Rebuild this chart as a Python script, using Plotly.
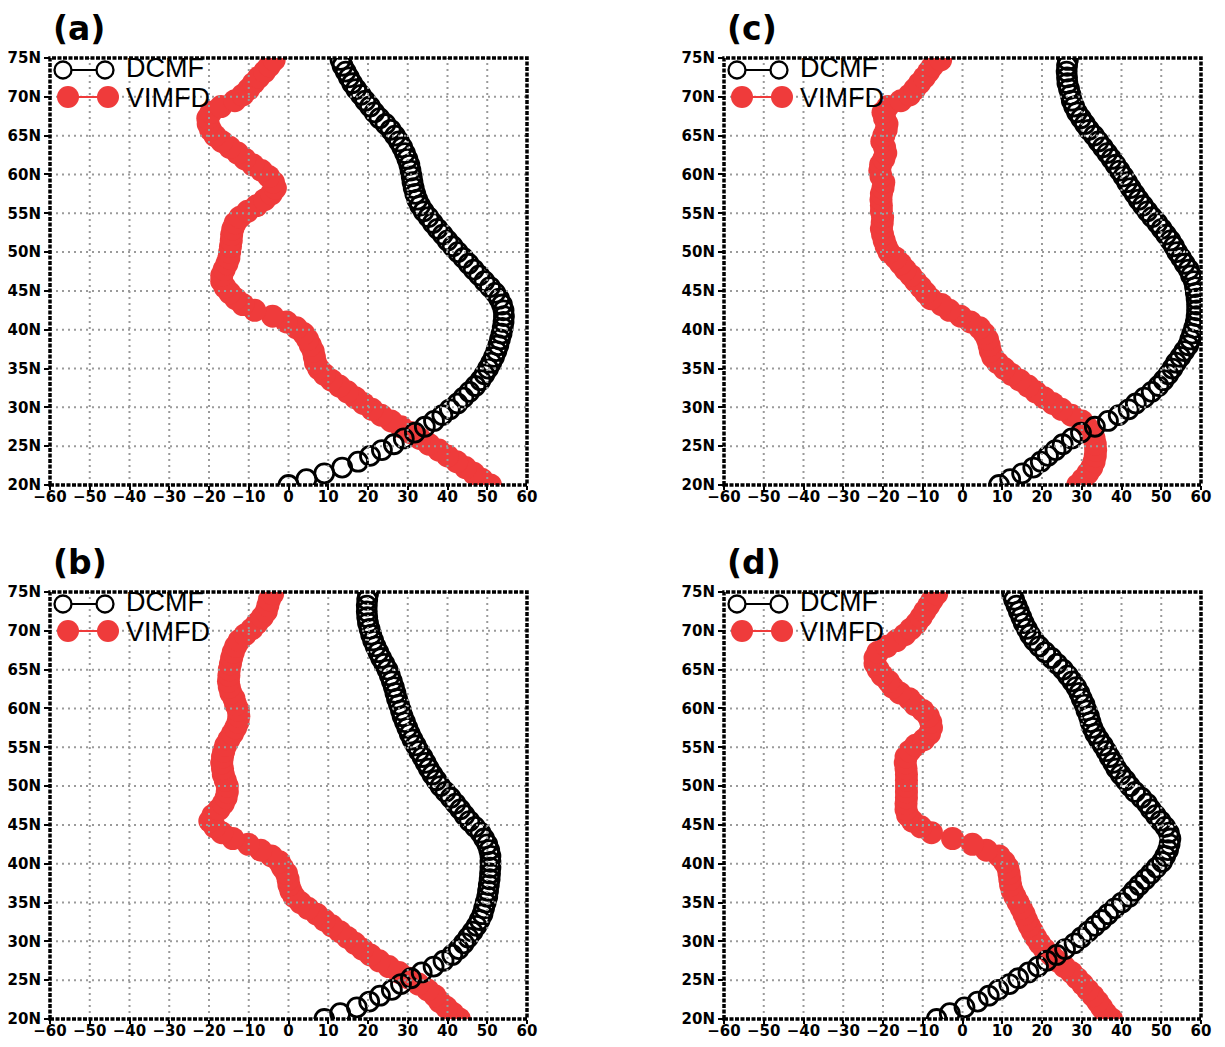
import plotly.graph_objects as go

# ---------------- data ----------------
lat = [20.0, 20.75, 21.5, 22.25, 23.0, 23.75, 24.5, 25.25, 26.0, 26.75,
       27.5, 28.25, 29.0, 29.75, 30.5, 31.25, 32.0, 32.75, 33.5, 34.25,
       35.0, 35.75, 36.5, 37.25, 38.0, 38.75, 39.5, 40.25, 41.0, 41.75,
       42.5, 43.25, 44.0, 44.75, 45.5, 46.25, 47.0, 47.75, 48.5, 49.25,
       50.0, 50.75, 51.5, 52.25, 53.0, 53.75, 54.5, 55.25, 56.0, 56.75,
       57.5, 58.25, 59.0, 59.75, 60.5, 61.25, 62.0, 62.75, 63.5, 64.25,
       65.0, 65.75, 66.5, 67.25, 68.0, 68.75, 69.5, 70.25, 71.0, 71.75,
       72.5, 73.25, 74.0, 74.75]

dcmf_a = [0.0, 4.5, 9.0, 13.5, 17.5, 20.5, 23.5, 26.5, 29.0, 31.8,
          34.3, 36.6, 38.7, 40.6, 42.5, 44.0, 45.5, 47.0, 48.3, 49.3,
          50.2, 51.0, 51.7, 52.3, 52.8, 53.2, 53.6, 53.9, 54.1, 54.2,
          54.1, 53.7, 53.0, 52.0, 50.7, 49.3, 48.0, 46.6, 45.3, 44.0,
          42.6, 41.3, 40.0, 38.8, 37.5, 36.3, 35.2, 34.0, 33.1, 32.4,
          31.9, 31.5, 31.2, 31.0, 30.7, 30.4, 29.9, 29.3, 28.6, 27.8,
          26.8, 25.7, 24.4, 22.9, 21.6, 20.5, 19.3, 18.2, 17.0, 16.0,
          15.2, 14.4, 13.6, 13.1]
vimfd_a = [50.8, 48.6, 46.6, 44.5, 42.3, 40.0, 37.8, 35.3, 33.0, 30.7,
           28.3, 25.8, 23.3, 21.0, 18.8, 16.8, 14.8, 12.8, 10.8, 9.0,
           7.6, 6.8, 6.5, 6.2, 5.5, 4.8, 3.8, 2.0, -0.5, -4.0,
           -8.5, -11.5, -13.3, -14.8, -16.0, -16.8, -16.8, -16.2, -15.5, -15.0,
           -14.8, -14.6, -14.4, -14.3, -14.0, -13.4, -12.2, -10.3, -8.0, -6.0,
           -4.3, -3.3, -3.8, -5.0, -6.8, -9.0, -11.0, -12.8, -14.8, -16.8,
           -18.5, -19.6, -20.2, -20.3, -19.5, -17.0, -13.5, -11.5, -10.0, -8.8,
           -7.5, -6.0, -4.8, -3.6]

dcmf_b = [9.0, 13.0, 17.2, 20.3, 23.0, 26.0, 28.3, 30.8, 33.5, 36.5,
          39.0, 41.2, 42.8, 44.1, 45.2, 46.3, 47.3, 48.1, 48.8, 49.2,
          49.6, 50.0, 50.2, 50.4, 50.6, 50.7, 50.8, 50.8, 50.8, 50.5,
          50.0, 49.2, 48.3, 46.9, 45.5, 44.3, 43.2, 42.0, 40.8, 39.5,
          38.2, 37.2, 36.2, 35.3, 34.5, 33.7, 32.8, 32.0, 31.2, 30.5,
          29.9, 29.3, 28.7, 28.3, 27.8, 27.3, 26.9, 26.5, 26.0, 25.5,
          24.9, 24.1, 23.3, 22.6, 21.9, 21.3, 20.8, 20.4, 20.0, 19.8,
          19.7, 19.7, 19.8, 20.0]
vimfd_b = [43.0, 41.3, 39.7, 38.0, 36.8, 35.0, 32.7, 30.3, 27.8, 25.2,
           22.8, 20.6, 18.6, 16.7, 14.8, 12.9, 10.9, 9.0, 7.1, 4.9,
           3.0, 1.4, 0.6, 0.1, -0.1, -0.5, -1.5, -2.3, -4.3, -7.0,
           -10.1, -14.0, -16.8, -18.6, -19.8, -19.0, -17.5, -16.4, -15.7, -15.4,
           -15.4, -15.9, -16.4, -16.6, -16.8, -16.6, -16.3, -15.8, -15.0, -14.1,
           -13.3, -12.7, -12.5, -12.6, -13.3, -13.7, -14.5, -14.9, -15.1, -15.0,
           -14.9, -14.6, -14.3, -13.9, -13.3, -12.4, -10.9, -9.2, -7.9, -6.6,
           -5.6, -5.2, -4.8, -4.0]

dcmf_c = [9.2, 12.0, 15.0, 17.8, 19.7, 21.5, 23.4, 25.2, 27.5, 29.8,
          33.3, 36.6, 39.3, 41.8, 43.6, 45.7, 47.6, 49.3, 50.6, 51.8,
          52.8, 53.7, 54.8, 55.8, 56.8, 57.3, 57.8, 58.3, 58.7, 58.9,
          59.0, 59.0, 58.9, 58.7, 58.5, 58.2, 57.5, 56.9, 55.9, 55.0,
          54.0, 53.2, 52.3, 51.2, 50.1, 49.0, 47.7, 46.5, 45.4, 44.3,
          43.3, 42.3, 41.4, 40.5, 39.5, 38.5, 37.5, 36.4, 35.3, 34.2,
          33.1, 31.8, 30.8, 29.8, 28.8, 28.1, 27.5, 27.2, 26.8, 26.4,
          26.3, 26.2, 26.3, 26.5]
vimfd_c = [29.0, 30.3, 31.5, 32.5, 33.1, 33.4, 33.5, 33.4, 33.1, 32.4,
           31.3, 30.0, 27.4, 24.9, 22.7, 20.5, 18.4, 16.5, 14.4, 12.3,
           10.5, 8.8, 7.6, 7.0, 6.7, 6.3, 5.5, 4.3, 2.0, -0.5,
           -3.3, -5.3, -8.0, -9.3, -10.5, -11.8, -13.0, -14.4, -15.6, -16.8,
           -18.5, -19.2, -19.7, -20.1, -20.4, -20.2, -20.1, -20.4, -20.4, -20.5,
           -20.4, -20.0, -19.8, -20.5, -20.8, -20.6, -19.8, -19.3, -19.6, -20.3,
           -19.8, -19.2, -19.0, -19.6, -20.0, -18.8, -15.5, -13.3, -12.0, -10.8,
           -9.6, -8.5, -7.5, -5.5]

dcmf_d = [-6.5, -3.2, 0.5, 3.8, 6.6, 9.0, 11.8, 14.0, 16.6, 19.0,
          21.2, 23.7, 25.8, 28.2, 29.9, 31.6, 33.3, 35.0, 36.6, 38.3,
          40.1, 41.9, 43.1, 44.5, 46.0, 47.4, 48.8, 50.2, 51.0, 51.7,
          52.1, 52.3, 51.9, 51.0, 49.8, 48.6, 47.4, 46.4, 45.0, 43.4,
          42.1, 41.0, 39.8, 38.7, 37.9, 37.0, 36.2, 35.3, 34.3, 33.4,
          32.7, 32.2, 31.8, 31.2, 30.7, 30.0, 29.4, 28.6, 27.6, 26.5,
          25.3, 23.8, 22.4, 20.8, 19.3, 18.0, 17.0, 16.2, 15.4, 14.8,
          14.2, 13.6, 13.0, 12.5]
vimfd_d = [37.5, 36.0, 35.0, 34.0, 32.8, 31.5, 30.2, 28.8, 27.4, 25.6,
           23.8, 22.3, 20.6, 19.4, 18.4, 17.6, 16.8, 16.1, 15.5, 14.8,
           14.0, 13.2, 12.5, 12.1, 11.9, 11.7, 11.4, 10.5, 9.2, 6.0,
           2.5, -2.5, -7.8, -10.5, -12.6, -13.8, -14.2, -14.2, -14.1, -14.1,
           -14.1, -14.1, -14.1, -14.2, -14.4, -14.2, -13.3, -11.8, -9.7, -8.3,
           -7.8, -8.0, -8.6, -10.0, -12.0, -13.4, -15.8, -17.6, -18.6, -20.2,
           -21.2, -22.0, -22.0, -21.3, -19.0, -16.6, -14.5, -13.0, -11.5, -10.4,
           -9.5, -8.5, -7.6, -6.5]

panel_labels = ["(a)", "(c)", "(b)", "(d)"]
series_names = ["DCMF", "VIMFD"]
x_ticks = [-60, -50, -40, -30, -20, -10, 0, 10, 20, 30, 40, 50, 60]
y_ticks = [20, 25, 30, 35, 40, 45, 50, 55, 60, 65, 70, 75]
y_ticktext = ["20N", "25N", "30N", "35N", "40N", "45N", "50N", "55N",
              "60N", "65N", "70N", "75N"]

# ---------------- layout geometry ----------------
# the page places the figure 8 px from the window's top-left corner
OFF = 8
W, H = 1225 - 2 * OFF, 1047 - 2 * OFF
PW, PH = 477, 427  # plot area in px
panels = [
    dict(label=panel_labels[0], dcmf=dcmf_a, vimfd=vimfd_a, left=50, top=58),
    dict(label=panel_labels[1], dcmf=dcmf_c, vimfd=vimfd_c, left=724, top=58),
    dict(label=panel_labels[2], dcmf=dcmf_b, vimfd=vimfd_b, left=50, top=592),
    dict(label=panel_labels[3], dcmf=dcmf_d, vimfd=vimfd_d, left=724, top=592),
]

RED = "#EF3B3B"
GRID = "#9a9a9a"
tickfont = dict(family="DejaVu Sans", size=15, color="black", weight="bold")
legfont = dict(family="Liberation Sans", size=27, color="black")

fig = go.Figure()
layout = dict(width=W, height=H, margin=dict(l=0, r=0, t=0, b=0, autoexpand=False),
              paper_bgcolor="white", plot_bgcolor="white", showlegend=False,
              template="none")
shapes = []
annotations = []


def fx(px):
    return px / PW


def fy(py):
    return 1 - py / PH


for i, p in enumerate(panels):
    n = "" if i == 0 else str(i + 1)
    xa, ya = "x" + n, "y" + n
    left = p["left"] - OFF
    top = p["top"] - OFF
    xdom = [left / W, (left + PW) / W]
    ydom = [1 - (top + PH) / H, 1 - top / H]

    fig.add_trace(go.Scatter(x=p["vimfd"], y=lat, mode="markers", name=series_names[1],
                             xaxis=xa, yaxis=ya,
                             marker=dict(size=23, color=RED, line=dict(width=0))))
    fig.add_trace(go.Scatter(x=p["dcmf"], y=lat, mode="markers", name=series_names[0],
                             xaxis=xa, yaxis=ya,
                             marker=dict(size=19, color="rgba(0,0,0,0)",
                                         line=dict(width=2.8, color="black"))))

    layout["xaxis" + n] = dict(domain=xdom, range=[-60, 60], anchor=ya,
                               automargin=False,
                               tickvals=x_ticks, ticks="outside", ticklen=4,
                               tickwidth=2, tickcolor="black", showgrid=False,
                               zeroline=False, showline=False, tickfont=tickfont,
                               ticklabelstandoff=-6, fixedrange=True)
    layout["yaxis" + n] = dict(domain=ydom, range=[20, 75], anchor=xa,
                               automargin=False,
                               tickvals=y_ticks, ticktext=y_ticktext,
                               ticks="outside", ticklen=5, tickwidth=2,
                               tickcolor="black", showgrid=False, zeroline=False,
                               showline=False, tickfont=tickfont, fixedrange=True)

    # dotted grid drawn above the data
    for v in x_ticks[1:-1]:
        shapes.append(dict(type="line", xref=xa, yref=ya + " domain", x0=v, x1=v,
                           y0=0, y1=1, layer="above",
                           line=dict(color=GRID, width=2, dash="2px,4px")))
    for v in y_ticks[1:-1]:
        shapes.append(dict(type="line", xref=xa + " domain", yref=ya, x0=0, x1=1,
                           y0=v, y1=v, layer="above",
                           line=dict(color=GRID, width=2, dash="2px,4px")))
    # frame
    shapes.append(dict(type="rect", xref=xa + " domain", yref=ya + " domain",
                       x0=0, x1=1, y0=0, y1=1, layer="above",
                       line=dict(color="black", width=3.5, dash="4px,1.5px")))

    # legend glyphs (pixel offsets from the panel's top-left corner)
    shapes.append(dict(type="line", xref=xa + " domain", yref=ya + " domain",
                       x0=fx(13), x1=fx(55), y0=fy(12), y1=fy(12), layer="above",
                       line=dict(color="black", width=2)))
    for cx in (13, 55):
        shapes.append(dict(type="circle", xref=xa + " domain", yref=ya + " domain",
                           xsizemode="pixel", ysizemode="pixel",
                           xanchor=fx(cx), yanchor=fy(12),
                           x0=-8.5, x1=8.5, y0=-8.5, y1=8.5, layer="above",
                           fillcolor="white", line=dict(color="black", width=2.3)))
    shapes.append(dict(type="line", xref=xa + " domain", yref=ya + " domain",
                       x0=fx(18), x1=fx(58), y0=fy(39), y1=fy(39), layer="above",
                       line=dict(color=RED, width=2)))
    for cx in (18, 58):
        shapes.append(dict(type="circle", xref=xa + " domain", yref=ya + " domain",
                           xsizemode="pixel", ysizemode="pixel",
                           xanchor=fx(cx), yanchor=fy(39),
                           x0=-11, x1=11, y0=-11, y1=11, layer="above",
                           fillcolor=RED, line=dict(color=RED, width=0)))
    annotations.append(dict(text=series_names[0], xref=xa + " domain", yref=ya + " domain",
                            x=fx(75), y=fy(10), xanchor="left", yanchor="middle",
                            showarrow=False, borderpad=0, font=legfont))
    annotations.append(dict(text=series_names[1], xref=xa + " domain", yref=ya + " domain",
                            x=fx(75), y=fy(40), xanchor="left", yanchor="middle",
                            showarrow=False, borderpad=0, font=legfont))
    # panel label
    annotations.append(dict(text=p["label"], xref="paper", yref="paper",
                            x=(left + 1) / W, y=1 - (top - 30) / H,
                            xanchor="left", yanchor="middle", showarrow=False,
                            font=dict(family="DejaVu Sans", size=33, color="black",
                                      weight="bold")))

layout["shapes"] = shapes
layout["annotations"] = annotations
fig.update_layout(**layout)
fig.write_html("out.html")
